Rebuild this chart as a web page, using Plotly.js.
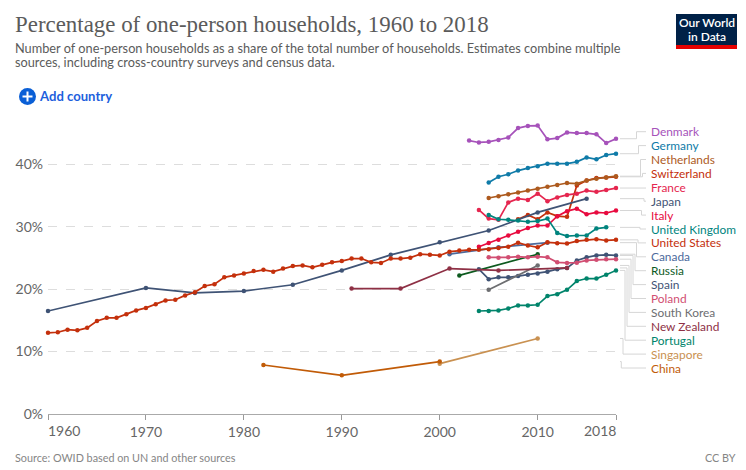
<!DOCTYPE html>
<html><head><meta charset="utf-8">
<script src="https://cdn.plot.ly/plotly-3.0.1.min.js"></script>
<style>html,body{margin:0;padding:0;background:#fff}#c{width:746px;height:470px}</style>
</head><body><div id="c"></div>
<script>
// ---- data ----
const denmarkYears=[2003,2004,2005,2006,2007,2008,2009,2010,2011,2012,2013,2014,2015,2016,2017,2018];
const denmark=[43.8,43.5,43.6,43.9,44.3,45.8,46.15,46.2,44.0,44.2,45.1,45.0,45.0,44.8,43.4,44.1];
const germanyYears=[2005,2006,2007,2008,2009,2010,2011,2012,2013,2014,2015,2016,2017,2018];
const germany=[37.1,38.0,38.4,39.0,39.4,39.7,40.1,40.1,40.1,40.4,41.1,40.8,41.5,41.7];
const netherlandsYears=[2005,2006,2007,2008,2009,2010,2011,2012,2013,2014,2015,2016,2017,2018];
const netherlands=[34.6,34.9,35.2,35.5,35.8,36.1,36.4,36.7,37.0,36.9,37.4,37.7,37.9,38.1];
const switzerlandYears=[2008,2009,2010,2011,2012,2013,2014,2015,2016,2017,2018];
const switzerland=[31.2,31.9,31.2,32.3,31.7,31.6,36.6,37.4,37.8,37.9,38.0];
const franceYears=[2004,2005,2006,2007,2008,2009,2010,2011,2012,2013,2014,2015,2016,2017,2018];
const france=[32.7,31.3,31.1,33.9,34.5,34.3,35.3,34.1,34.7,35.1,35.3,35.8,35.6,35.9,36.2];
const japanYears=[1960,1970,1975,1980,1985,1990,1995,2000,2005,2010,2015];
const japan=[16.5,20.2,19.4,19.7,20.7,23.0,25.5,27.5,29.4,32.3,34.5];
const italyYears=[2004,2005,2006,2007,2008,2009,2010,2011,2012,2013,2014,2015,2016,2017,2018];
const italy=[26.8,27.4,27.9,28.6,29.2,29.8,30.2,30.2,31.7,32.5,32.9,32.0,32.3,32.2,32.6];
const ukYears=[2005,2006,2007,2008,2009,2010,2011,2012,2013,2014,2015,2016,2017];
const uk=[31.9,31.2,31.1,31.0,30.8,30.9,31.3,29.0,28.5,28.6,28.6,29.7,29.9];
const usYears=[1960,1961,1962,1963,1964,1965,1966,1967,1968,1969,1970,1971,1972,1973,1974,1975,1976,1977,1978,1979,1980,1981,1982,1983,1984,1985,1986,1987,1988,1989,1990,1991,1992,1993,1994,1995,1996,1997,1998,1999,2000,2001,2002,2003,2004,2005,2006,2007,2008,2009,2010,2011,2012,2013,2014,2015,2016,2017,2018];
const us=[13.0,13.1,13.5,13.4,13.8,14.9,15.4,15.4,16.0,16.6,17.0,17.6,18.2,18.3,19.0,19.5,20.5,20.8,21.9,22.2,22.5,22.9,23.1,22.8,23.3,23.7,23.8,23.5,23.9,24.3,24.5,24.9,24.9,24.3,24.2,24.9,24.9,25.05,25.6,25.5,25.4,26.0,26.2,26.3,26.3,26.4,26.6,26.8,27.45,27.0,26.7,27.5,27.35,27.3,27.7,27.9,28.0,27.8,27.9];
const canadaYears=[2001,2006,2011];
const canada=[25.6,26.7,27.45];
const russiaYears=[2002,2010];
const russia=[22.2,25.6];
const spainYears=[2004,2005,2006,2007,2008,2009,2010,2011,2012,2013,2014,2015,2016,2017,2018];
const spain=[23.2,21.6,21.9,21.9,22.1,22.3,22.5,22.8,23.2,23.4,24.6,25.1,25.4,25.5,25.4];
const polandYears=[2005,2006,2007,2008,2009,2010,2011,2012,2013,2014,2015,2016,2017,2018];
const poland=[25.1,25.05,25.1,25.2,25.1,25.2,25.1,24.3,24.2,24.25,24.6,24.7,24.8,24.8];
const southKoreaYears=[2005,2010];
const southKorea=[19.9,23.8];
const newZealandYears=[1991,1996,2001,2006,2013];
const newZealand=[20.1,20.1,23.3,23.0,23.4];
const portugalYears=[2004,2005,2006,2007,2008,2009,2010,2011,2012,2013,2014,2015,2016,2017,2018];
const portugal=[16.5,16.5,16.6,16.9,17.4,17.4,17.5,18.9,19.2,19.9,21.3,21.7,21.7,22.3,23.0];
const singaporeYears=[2000,2010];
const singapore=[8.07,12.1];
const chinaYears=[1982,1990,2000];
const china=[7.85,6.2,8.4];

const yTicks=[0,10,20,30,40];
const yTickText=['0%','10%','20%','30%','40%'];
const xTicks=[1960,1970,1980,1990,2000,2010,2018];
const xTickText=['','1970','1980','1990','2000','2010',''];

const titleText='Percentage of one-person households, 1960 to 2018';
const subtitle1='Number of one-person households as a share of the total number of households. Estimates combine multiple';
const subtitle2='sources, including cross-country surveys and census data.';
const sourceText='Source: OWID based on UN and other sources';

const seriesList=[
 ['Denmark',denmarkYears,denmark,'#A652BA',636.5],
 ['Germany',germanyYears,germany,'#0F7BA8',638.5],
 ['Switzerland',switzerlandYears,switzerland,'#C4300C',642.5],
 ['Netherlands',netherlandsYears,netherlands,'#AD5A1E',640.5],
 ['France',franceYears,france,'#E5264F',null],
 ['Japan',japanYears,japan,'#3F5375',644],
 ['Italy',italyYears,italy,'#E80B3F',641.5],
 ['United Kingdom',ukYears,uk,'#00847E',640],
 ['Canada',canadaYears,canada,'#4C6A9C',636.5],
 ['Russia',russiaYears,russia,'#0D5A1F',635],
 ['Spain',spainYears,spain,'#3F5375',633],
 ['Poland',polandYears,poland,'#D14E72',631],
 ['South Korea',southKoreaYears,southKorea,'#6D6E71',629],
 ['New Zealand',newZealandYears,newZealand,'#8E3045',627],
 ['Portugal',portugalYears,portugal,'#00846B',625],
 ['Singapore',singaporeYears,singapore,'#C99151',623],
 ['China',chinaYears,china,'#C15B07',621.3],
 ['United States',usYears,us,'#C4300C',638]
];
const labelOrder=['Denmark','Germany','Netherlands','Switzerland','France','Japan','Italy','United Kingdom','United States','Canada','Russia','Spain','Poland','South Korea','New Zealand','Portugal','Singapore','China'];

// ---- layout helpers ----
const L=48,R=616,T=120,B=414,yMax=47.1;
const px=x=>(x-L)/(R-L), py=y=>(B-y)/(B-T);
const valY=v=>B-v/yMax*(B-T);
const note=(text,x,y,size,color,anchor,extra)=>Object.assign({text,xref:'paper',yref:'paper',x:px(x),y:py(y),xanchor:anchor||'left',yanchor:'middle',showarrow:false,align:'left',borderpad:0,borderwidth:0,font:{family:'Lato',size,color}},extra||{});

const traces=seriesList.map(s=>({type:'scatter',mode:'lines+markers',name:s[0],x:s[1],y:s[2],cliponaxis:false,
  line:{color:s[3],width:1.7},marker:{color:s[3],size:4.5}}));

const annotations=[
 note(titleText,15,25,22.9,'#5b5b5b','left',{font:{family:'Liberation Serif',size:22.9,color:'#5b5b5b'}}),
 note(subtitle1,15,48,12.75,'#5b5b5b'),
 note(subtitle2,15,62,12.75,'#5b5b5b'),
 note('<b>Add country</b>',39,96.5,13.1,'#1D5FDD'),
 note(sourceText,15,457.5,10.8,'#858585'),
 note('CC BY',736,457.5,10.8,'#858585','right'),
 note('1960',48,430,14,'#666','left'),
 note('2018',616,430,14,'#666','right'),
 note('Our World',706.5,22.5,12,'#fff','center',{font:{family:'Lato',size:12,color:'#fff',weight:600}}),
 note('in Data',706.5,36.5,12,'#fff','center',{font:{family:'Lato',size:12,color:'#fff',weight:600}})
];
const shapes=[
 {type:'rect',xref:'paper',yref:'paper',x0:px(676),x1:px(737),y0:py(14),y1:py(45),fillcolor:'#002147',line:{width:0}},
 {type:'rect',xref:'paper',yref:'paper',x0:px(676),x1:px(737),y0:py(45),y1:py(49),fillcolor:'#E60000',line:{width:0}},
 {type:'circle',xref:'paper',yref:'paper',x0:px(19),x1:px(36),y0:py(88),y1:py(105),fillcolor:'#0A5FD6',line:{width:0}},
 {type:'line',xref:'paper',yref:'paper',x0:px(22.5),x1:px(32.5),y0:py(96.5),y1:py(96.5),line:{color:'#fff',width:2}},
 {type:'line',xref:'paper',yref:'paper',x0:px(27.5),x1:px(27.5),y0:py(91.5),y1:py(101.5),line:{color:'#fff',width:2}}
];
labelOrder.forEach((name,i)=>{
  const s=seriesList.find(d=>d[0]===name);
  const ly=131.7+i*13.9;
  annotations.push(note(name,651,ly,11.9,s[3]));
  const sy=valY(s[2][s[2].length-1]);
  const elbow=s[4];
  const path=elbow===null?`M${px(620)},${py(sy)}L${px(646)},${py(sy)}`
    :`M${px(620)},${py(sy)}L${px(elbow)},${py(sy)}L${px(elbow)},${py(ly)}L${px(646)},${py(ly)}`;
  shapes.push({type:'path',xref:'paper',yref:'paper',path,line:{color:'#d6d6d6',width:1}});
});

const layout={width:746,height:470,autosize:false,showlegend:false,paper_bgcolor:'#fff',plot_bgcolor:'#fff',
 margin:{l:L,r:746-R,t:T,b:470-B,pad:0},
 xaxis:{range:[1960,2018],tickmode:'array',tickvals:xTicks,ticktext:xTickText,ticks:'outside',ticklen:5,tickcolor:'#999',tickwidth:1,
   showline:true,linecolor:'#aaa',linewidth:1,showgrid:false,zeroline:false,tickfont:{family:'Lato',size:14,color:'#666'}},
 yaxis:{range:[0,yMax],tickmode:'array',tickvals:yTicks,ticktext:yTickText,ticks:'',showline:false,zeroline:false,showgrid:true,gridcolor:'#ddd',griddash:'dash',gridwidth:1,
   tickfont:{family:'Lato',size:14,color:'#666'},ticklabelstandoff:4},
 annotations,shapes};
Plotly.newPlot('c',traces,layout,{staticPlot:true,displayModeBar:false});
</script></body></html>
